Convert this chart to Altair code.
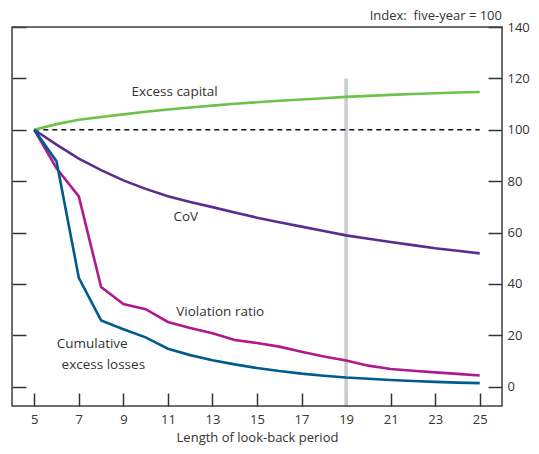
import altair as alt
import pandas as pd

years = list(range(5, 26))
excess_capital = [100, 102.2, 103.9, 105.0, 106.0, 107.0, 107.9, 108.7, 109.4, 110.1, 110.7,
                  111.3, 111.8, 112.3, 112.8, 113.2, 113.6, 113.9, 114.2, 114.5, 114.7]
cov = [100, 94.2, 88.8, 84.3, 80.3, 77.0, 74.1, 71.9, 69.9, 67.8, 65.8,
       64.0, 62.3, 60.6, 58.9, 57.6, 56.3, 55.1, 53.9, 52.9, 51.9]
violation_ratio = [100, 85.0, 74.1, 38.8, 32.2, 30.2, 25.2, 22.9, 20.8, 18.2, 17.0,
                   15.6, 13.6, 11.8, 10.2, 8.2, 6.9, 6.2, 5.6, 5.0, 4.4]
cumulative_losses = [100, 87.7, 42.4, 25.8, 22.4, 19.2, 14.8, 12.3, 10.3, 8.7, 7.3,
                     6.1, 5.1, 4.3, 3.6, 3.1, 2.6, 2.2, 1.9, 1.6, 1.4]

series_names = ["Excess capital", "CoV", "Violation ratio", "Cumulative excess losses"]
series_colors = ["#6cc24a", "#5b2c8f", "#b0198e", "#005b8f"]
x_ticks = [5, 7, 9, 11, 13, 15, 17, 19, 21, 23, 25]
y_ticks = [0, 20, 40, 60, 80, 100, 120, 140]

label_text = ["Excess capital", "CoV", "Violation ratio", "Cumulative", "excess losses"]
label_x = [11.3, 11.8, 13.35, 7.6, 8.1]
label_y = [114.7, 66.1, 29.1, 16.6, 8.6]

ref_year = 19
ref_top = 120
baseline = 100
unit_note = "Index:\u00a0 five-year = 100"

FONT = "Open Sans"
TXT = "#333333"
W, H = 490, 379

rows = []
for name, vals in zip(series_names, [excess_capital, cov, violation_ratio, cumulative_losses]):
    for x, v in zip(years, vals):
        rows.append({"year": x, "value": v, "series": name})
df = pd.DataFrame(rows)

xscale = alt.Scale(domain=[4, 26], nice=False, zero=False)
yscale = alt.Scale(domain=[-7.5, 140], nice=False, zero=False)

x_axis = alt.Axis(values=x_ticks, title="Length of look-back period", domain=False,
                  offset=-13, tickSize=13, tickColor="#333333", tickWidth=1.5,
                  labelPadding=7, labelFontSize=13, labelColor=TXT, labelFont=FONT,
                  titleFont=FONT, titleFontSize=13, titleFontWeight="normal",
                  titleColor=TXT, titlePadding=5, grid=False)
y_axis_right = alt.Axis(orient="right", values=y_ticks, title=None, domain=False,
                        offset=-14, tickSize=14, tickColor="#333333", tickWidth=1.5,
                        labelPadding=5, labelFontSize=13, labelColor=TXT, labelFont=FONT,
                        grid=False)
y_axis_left = alt.Axis(orient="left", values=y_ticks, title=None, domain=False,
                       offset=-14, tickSize=14, tickColor="#333333", tickWidth=1.5,
                       labels=False, grid=False)

X = alt.X("year:Q", scale=xscale, axis=x_axis)

lines = alt.Chart(df).mark_line(strokeWidth=2.6).encode(
    x=X,
    y=alt.Y("value:Q", scale=yscale, axis=y_axis_right),
    color=alt.Color("series:N", scale=alt.Scale(domain=series_names, range=series_colors),
                    legend=None),
)

ref_df = pd.DataFrame({"year": [ref_year], "value": [ref_top]})
ref = alt.Chart(ref_df).mark_rule(color="#c5ccd3", strokeWidth=3.5).encode(
    x=X,
    y=alt.Y("value:Q", scale=yscale, axis=y_axis_left),
    y2=alt.value(H),
)

dash_df = pd.DataFrame({"year": [years[0], years[-1]], "value": [baseline, baseline]})
dash = alt.Chart(dash_df).mark_line(color="#111111", strokeWidth=1.6, strokeDash=[5, 4]).encode(
    x=X,
    y=alt.Y("value:Q", scale=yscale, axis=None),
)

lab_df = pd.DataFrame({"text": label_text, "year": label_x, "value": label_y})
labels = alt.Chart(lab_df).mark_text(font=FONT, fontSize=13.5, color=TXT, align="center",
                                     baseline="middle").encode(
    x=X,
    y=alt.Y("value:Q", scale=yscale, axis=None),
    text="text:N",
)

frame = alt.Chart(pd.DataFrame({"k": [0]})).mark_rect(
    fill=None, filled=False, stroke="#444444", strokeWidth=1.5).encode(
    x=alt.value(0), x2=alt.value(W), y=alt.value(0), y2=alt.value(H))

note = alt.Chart(pd.DataFrame({"text": [unit_note]})).mark_text(
    font=FONT, fontSize=13, color=TXT, align="right", baseline="middle").encode(
    x=alt.value(W), y=alt.value(-11), text="text:N")

chart = alt.layer(ref, dash, lines, labels, frame, note).resolve_axis(y="independent").properties(
    width=W, height=H,
    autosize=alt.AutoSizeParams(type="none"),
    padding={"left": 4, "top": 19, "right": 29, "bottom": 40},
).configure_view(stroke=None).configure(background="white")

chart.save("out.html", embed_options={"renderer": "svg", "actions": False})
